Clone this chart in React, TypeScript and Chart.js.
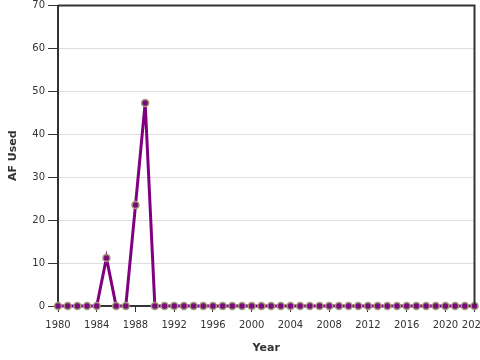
import React, { useEffect, useRef } from "react";
import { Chart, registerables } from "chart.js";

Chart.register(...registerables);

const years: number[] = [];
for (let y = 1980; y <= 2023; y++) years.push(y);

const afUsed: number[] = [
  0, 0, 0, 0, 0, 11.2, 0, 0, 23.5, 47.3,
  0, 0, 0, 0, 0, 0, 0, 0, 0, 0,
  0, 0, 0, 0, 0, 0, 0, 0, 0, 0,
  0, 0, 0, 0, 0, 0, 0, 0, 0, 0,
  0, 0, 0, 0,
];

const xTickValues = [1980, 1984, 1988, 1992, 1996, 2000, 2004, 2008, 2012, 2016, 2020, 2023];
const yTickValues = [0, 10, 20, 30, 40, 50, 60, 70];

const FONT = "'DejaVu Sans', sans-serif";
const AXIS = "#333333";

const frame = {
  id: "frame",
  afterDatasetsDraw(chart: any) {
    const { ctx, chartArea } = chart;
    ctx.save();
    ctx.strokeStyle = AXIS;
    ctx.lineWidth = 2;
    ctx.beginPath();
    ctx.moveTo(chartArea.left, chartArea.top);
    ctx.lineTo(chartArea.right, chartArea.top);
    ctx.lineTo(chartArea.right, chartArea.bottom);
    ctx.stroke();
    ctx.restore();
  },
};

export default function App() {
  const ref = useRef<HTMLCanvasElement>(null);
  useEffect(() => {
    if (!ref.current) return;
    const chart = new Chart(ref.current, {
      type: "line",
      data: {
        datasets: [
          {
            label: "AF Used",
            data: years.map((y, i) => ({ x: y, y: afUsed[i] })),
            borderColor: "#800080",
            borderWidth: 3,
            backgroundColor: "#800080",
            pointBackgroundColor: "#7a0a7e",
            pointBorderColor: "#a39a78",
            pointBorderWidth: 1.5,
            pointRadius: 3.5,
            tension: 0,
            clip: false as any,
          },
        ],
      },
      options: {
        responsive: false,
        animation: false,
        layout: { padding: { top: 4, right: 5, left: 0, bottom: 0 } },
        plugins: { legend: { display: false }, tooltip: { enabled: false } },
        scales: {
          x: {
            type: "linear",
            min: 1980,
            max: 2023,
            afterBuildTicks: (scale: any) => {
              scale.ticks = xTickValues.map((v) => ({ value: v }));
            },
            afterFit: (scale: any) => {
              scale.height = 54;
              scale.paddingLeft = 0;
              scale.paddingRight = 0;
            },
            grid: { display: true, drawOnChartArea: false, tickLength: 6, tickColor: AXIS, tickWidth: 1 },
            border: { display: true, color: AXIS, width: 2 },
            ticks: {
              autoSkip: false,
              maxRotation: 0,
              padding: 7,
              color: "#333",
              font: { family: FONT, size: 10 },
              callback: (v: any) => String(v),
            },
            title: {
              display: true,
              text: "Year",
              color: "#333",
              font: { family: FONT, size: 11, weight: "bold" },
              padding: { top: 0, bottom: 5 },
            },
          },
          y: {
            type: "linear",
            min: 0,
            max: 70,
            afterBuildTicks: (scale: any) => {
              scale.ticks = yTickValues.map((v) => ({ value: v }));
            },
            afterFit: (scale: any) => {
              scale.width = 58;
              scale.paddingTop = 0;
              scale.paddingBottom = 0;
            },
            grid: { color: "#dddddd", lineWidth: 1, tickLength: 10, tickColor: AXIS, tickWidth: 1 },
            border: { display: true, color: AXIS, width: 2 },
            ticks: {
              padding: 3,
              color: "#333",
              font: { family: FONT, size: 10 },
            },
            title: {
              display: true,
              text: "AF Used",
              color: "#333",
              font: { family: FONT, size: 11, weight: "bold" },
              padding: { top: 7, bottom: 0 },
            },
          },
        },
      },
      plugins: [frame],
    });
    return () => chart.destroy();
  }, []);
  return (
    <div style={{ position: "fixed", left: 0, top: 0, width: 480, height: 360, overflow: "hidden", background: "#fff" }}>
      <canvas ref={ref} width={480} height={360} style={{ display: "block" }} />
    </div>
  );
}
